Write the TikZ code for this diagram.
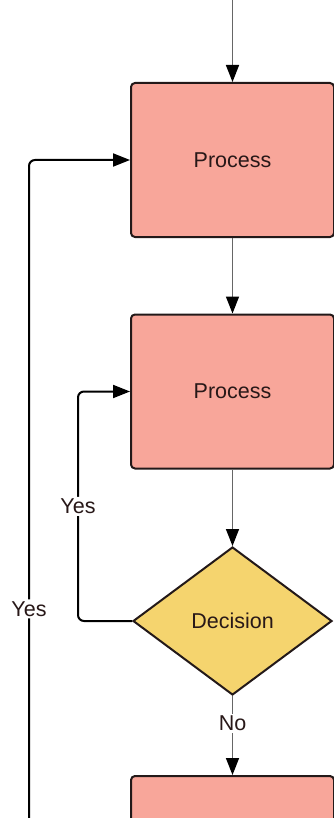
\documentclass[tikz,border=0pt]{standalone}
\usepackage{fontspec}
\setmainfont{Liberation Sans}
\usetikzlibrary{shapes.geometric,arrows.meta,calc}
\definecolor{procfill}{RGB}{248,166,154}
\definecolor{decfill}{RGB}{245,212,110}
\definecolor{edge}{RGB}{35,25,25}
\definecolor{txt}{RGB}{40,24,24}
\begin{document}
\begin{tikzpicture}[x=1pt,y=-1pt,
  every node/.style={font=\fontsize{21.5}{25}\selectfont, text=txt},
  procbox/.style={rectangle, rounded corners=4pt, draw=edge, line width=2pt,
    fill=procfill, minimum width=203pt, minimum height=154pt, inner sep=0pt},
  decbox/.style={diamond, draw=edge, line width=2pt, fill=decfill,
    minimum width=199pt, minimum height=148pt, inner sep=0pt},
  flow/.style={draw=black!60, line width=1.6pt,
    -{Triangle[length=17pt,width=13pt,color=black]}},
  loopline/.style={draw=black, line width=2pt, rounded corners=6pt,
    -{Triangle[length=17pt,width=13pt]}},
  lbl/.style={fill=white, inner sep=2pt}]
\useasboundingbox (0,0) rectangle (334,818);
\clip (0,0) rectangle (334,818);

% boxes and decision
\node[procbox] (p1) at (232.5,160) {Process};
\node[procbox] (p2) at (232.5,391.5) {Process};
\node[decbox] (d) at (232.5,621) {Decision};
\node[procbox] (p3) at (232.5,853) {};

% entry and free end of the outer loop
\coordinate (in) at (232.5,-2);
\coordinate (back) at (29,830);

% main flow
\draw[flow] (in) -- (p1.north);
\draw[flow] (p1.south) -- (p2.north);
\draw[flow] (p2.south) -- (d.north);
\draw[flow] (d.south) -- node[lbl, pos=0.35]{No} (p3.north);

% loops back
\draw[loopline] (d.west) -- (78,621) -- node[lbl, pos=0.5]{Yes} (78,391.5) -- (p2.west);
\draw[loopline] (back) -- node[lbl, pos=0.33]{Yes} (29,160) -- (p1.west);
\end{tikzpicture}
\end{document}
